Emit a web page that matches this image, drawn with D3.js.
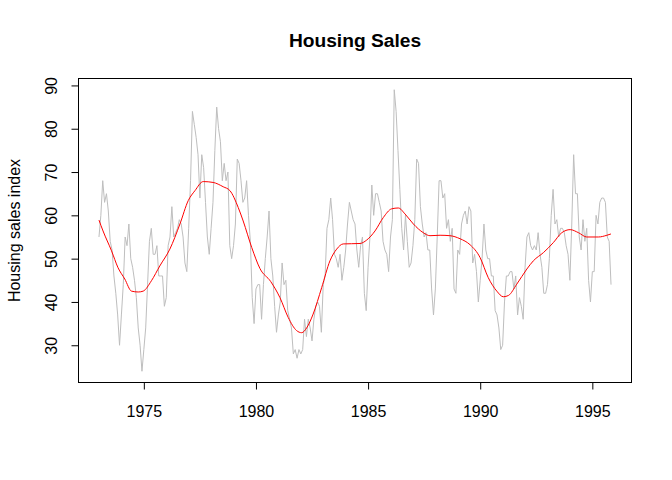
<!DOCTYPE html>
<html>
<head>
<meta charset="utf-8">
<script src="https://cdn.jsdelivr.net/npm/d3@7"></script>
<style>
  body { margin: 0; background: #fff; }
  svg text { font-family: "Liberation Sans", Arial, sans-serif; fill: #000; }
</style>
</head>
<body>
<svg id="chart" width="672" height="480"></svg>
<script>
// monthly sales index, Jan 1973 .. Nov 1995
var startYear = 1973;
var sales = [
	55, 60, 68, 63, 65, 61, 54, 52, 46, 42, 37, 30,
	37, 44, 55, 53, 58, 50, 48, 45, 41, 34, 30, 24,
	29, 34, 44, 54, 57, 51, 51, 53, 46, 46, 46, 39,
	41, 53, 55, 62, 55, 56, 57, 59, 58, 55, 49, 47,
	57, 68, 84, 81, 78, 74, 64, 74, 71, 63, 55, 51,
	57, 63, 75, 85, 80, 77, 68, 72, 68, 70, 53, 50,
	53, 58, 73, 72, 68, 63, 64, 68, 60, 54, 41, 35,
	43, 44, 44, 36, 44, 50, 55, 61, 50, 46, 39, 33,
	37, 40, 49, 44, 45, 38, 36, 34, 28, 29, 27, 29,
	28, 29, 36, 32, 36, 34, 31, 36, 39, 40, 39, 33,
	44, 46, 57, 59, 64, 59, 51, 50, 48, 51, 45, 48,
	52, 58, 63, 61, 59, 58, 52, 48, 53, 55, 42, 38,
	48, 55, 67, 60, 65, 65, 63, 61, 54, 52, 51, 47,
	55, 59, 89, 84, 75, 66, 57, 52, 60, 54, 48, 49,
	53, 59, 73, 72, 62, 58, 55, 56, 52, 52, 43, 37,
	43, 55, 68, 68, 64, 65, 57, 59, 54, 57, 43, 42,
	52, 51, 58, 60, 61, 58, 62, 61, 49, 51, 47, 40,
	45, 50, 58, 52, 50, 50, 46, 46, 38, 37, 34, 29,
	30, 40, 46, 46, 47, 47, 43, 46, 37, 41, 39, 36,
	48, 55, 56, 53, 52, 53, 52, 56, 51, 48, 42, 42,
	44, 50, 60, 66, 58, 59, 55, 57, 57, 56, 53, 51,
	45, 58, 74, 65, 65, 55, 52, 59, 54, 57, 45, 40,
	47, 47, 60, 58, 63, 64, 64, 63, 55, 54, 44
];

// smoothed trend
var trendTime = [
	1973.00, 1973.18, 1973.56, 1973.85, 1974.15, 1974.45, 1974.75, 1974.97,
	1975.34, 1975.71, 1976.16, 1976.61, 1976.98, 1977.28, 1977.65, 1978.09,
	1978.54, 1978.84, 1979.21, 1979.43, 1979.81, 1980.18, 1980.66, 1981.07,
	1981.44, 1981.81, 1982.04, 1982.26, 1982.55, 1982.93, 1983.30, 1983.60,
	1983.89, 1984.64, 1984.94, 1985.31, 1985.68, 1986.05, 1986.35, 1986.65,
	1987.02, 1987.46, 1987.76, 1988.21, 1988.65, 1989.10, 1989.55, 1989.99,
	1990.36, 1990.74, 1991.03, 1991.26, 1991.63, 1992.08, 1992.37, 1992.82,
	1993.26, 1993.64, 1994.01, 1994.38, 1994.75, 1995.27, 1995.65, 1995.83
];
var trendValue = [
	58.9, 56.4, 51.8, 47.9, 45.3, 42.5, 42.3, 42.5,
	44.9, 48.3, 52.2, 58.0, 63.4, 65.7, 67.8, 67.6,
	66.6, 65.7, 61.8, 58.7, 52.6, 47.7, 44.7, 41.0,
	36.4, 33.4, 32.9, 34.0, 37.2, 43.3, 49.5, 52.2,
	53.4, 53.5, 54.3, 56.4, 59.5, 61.5, 61.7, 60.3,
	58.0, 56.0, 55.3, 55.4, 55.3, 54.6, 53.2, 50.3,
	45.6, 42.5, 41.2, 41.5, 44.1, 47.6, 49.5, 51.4,
	53.7, 56.0, 56.7, 56.0, 55.0, 55.0, 55.4, 55.7
];

var xTicks = [1975, 1980, 1985, 1990, 1995];
var yTicks = [30, 40, 50, 60, 70, 80, 90];

var plot = { left: 78.5, right: 631.5, top: 78.5, bottom: 382.5 };
var svg = d3.select("#chart");

var series = sales.map(function(v, i) { return { t: startYear + i / 12, v: v }; });
var trend = trendTime.map(function(t, i) { return { t: t, v: trendValue[i] }; });

// R style 4% padding on both axes
function padded(ext) {
	var d = (ext[1] - ext[0]) * 0.04;
	return [ext[0] - d, ext[1] + d];
}

var x = d3.scaleLinear()
	.domain(padded(d3.extent(series, function(d) { return d.t; })))
	.range([plot.left, plot.right]);
var y = d3.scaleLinear()
	.domain(padded(d3.extent(series, function(d) { return d.v; })))
	.range([plot.bottom, plot.top]);

svg.append("rect")
	.attr("width", 672).attr("height", 480).attr("fill", "#fff");

var line = d3.line()
	.x(function(d) { return x(d.t); })
	.y(function(d) { return y(d.v); });

svg.append("path")
	.datum(series)
	.attr("d", line)
	.attr("fill", "none")
	.attr("stroke", "#bebebe")
	.attr("stroke-width", 1);

svg.append("path")
	.datum(trend)
	.attr("d", line.curve(d3.curveMonotoneX))
	.attr("fill", "none")
	.attr("stroke", "#ff0000")
	.attr("stroke-width", 1);

// box
svg.append("rect")
	.attr("x", plot.left).attr("y", plot.top)
	.attr("width", plot.right - plot.left)
	.attr("height", plot.bottom - plot.top)
	.attr("fill", "none")
	.attr("stroke", "#000")
	.attr("stroke-width", 1);

var xAxis = svg.append("g")
	.attr("transform", "translate(0," + plot.bottom + ")")
	.call(d3.axisBottom(x).tickValues(xTicks).tickSize(7).tickPadding(16).tickFormat(d3.format("d")));
xAxis.select(".domain").remove();
xAxis.selectAll("text").style("font-size", "16px").attr("fill", "#000");

var yAxis = svg.append("g")
	.attr("transform", "translate(" + plot.left + ",0)")
	.call(d3.axisLeft(y).tickValues(yTicks).tickSize(7));
yAxis.select(".domain").remove();
yAxis.selectAll("text")
	.style("font-size", "16px")
	.attr("transform", "rotate(-90)")
	.attr("x", 0)
	.attr("y", -22)
	.attr("dy", 0)
	.attr("text-anchor", "middle");

svg.append("text")
	.attr("x", (plot.left + plot.right) / 2)
	.attr("y", 46.5)
	.attr("text-anchor", "middle")
	.style("font-size", "19.2px")
	.style("font-weight", "bold")
	.text("Housing Sales");

svg.append("text")
	.attr("transform", "translate(20," + (plot.top + plot.bottom) / 2 + ") rotate(-90)")
	.attr("text-anchor", "middle")
	.style("font-size", "16px")
	.text("Housing sales index");
</script>
</body>
</html>
